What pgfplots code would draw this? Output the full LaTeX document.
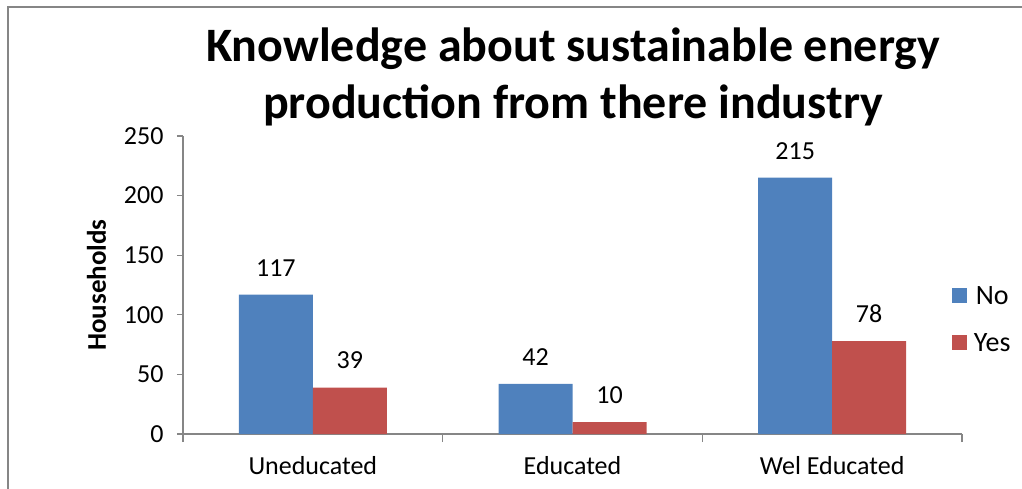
\documentclass[border=0pt]{standalone}
\usepackage{fontspec}
\setmainfont{Carlito}
\usepackage{pgfplots}
\pgfplotsset{compat=1.18}
\definecolor{cblue}{HTML}{4F81BD}
\definecolor{cred}{HTML}{C0504D}
\definecolor{axgray}{HTML}{868686}
\begin{document}
\begin{tikzpicture}
\path[use as bounding box] (0,0) rectangle (1022pt,488pt);
\draw[axgray, line width=1.5pt] (8pt,-2pt) -- (8pt,481pt) -- (1024pt,481pt);
\node[font=\fontsize{48}{57}\selectfont\bfseries, align=center] at (573pt,411pt)
  {Knowledge about sustainable energy\\production from there industry};
\begin{axis}[
  at={(183pt,54pt)}, anchor=south west,
  scale only axis, width=779pt, height=298pt,
  ymin=0, ymax=250, xmin=-0.5, xmax=2.5,
  ybar=0pt, bar width=74pt,
  axis x line*=bottom, axis y line*=left,
  axis line style={axgray, line width=1.2pt},
  ytick={0,50,...,250},
  xtick={0,1,2}, xticklabels={Uneducated,Educated,Wel Educated},
  minor xtick={-0.5,0.5,1.5,2.5},
  x tick style={draw=none},
  minor x tick style={draw=axgray, line width=1.2pt},
  y tick style={axgray, line width=1.2pt},
  tick align=outside,
  major tick length=6pt, minor tick length=8pt,
  every tick label/.append style={font=\fontsize{26}{30}\selectfont},
  /pgf/number format/assume math mode=true,
  xticklabel style={yshift=-13pt},
  yticklabel style={xshift=-10pt},
  ylabel={Households},
  ylabel style={font=\fontsize{27}{31}\selectfont\bfseries, at={(axis description cs:-0.111,0.5)}, anchor=center},
  nodes near coords,
  every node near coord/.append style={font=\fontsize{26}{30}\selectfont, yshift=15pt, /pgf/number format/assume math mode=true},
  legend style={draw=none, at={(0.983,0.51)}, anchor=north west, font=\fontsize{28}{32}\selectfont, row sep=24pt, fill=none,
    nodes={inner xsep=7pt}},
  legend image code/.code={\fill[#1] (0pt,-7pt) rectangle (15pt,8pt);},
]
\addplot[fill=cblue, draw=none] coordinates {(0,117) (1,42) (2,215)};
\addplot[fill=cred, draw=none] coordinates {(0,39) (1,10) (2,78)};
\legend{No,Yes}
\end{axis}
\end{tikzpicture}
\end{document}
